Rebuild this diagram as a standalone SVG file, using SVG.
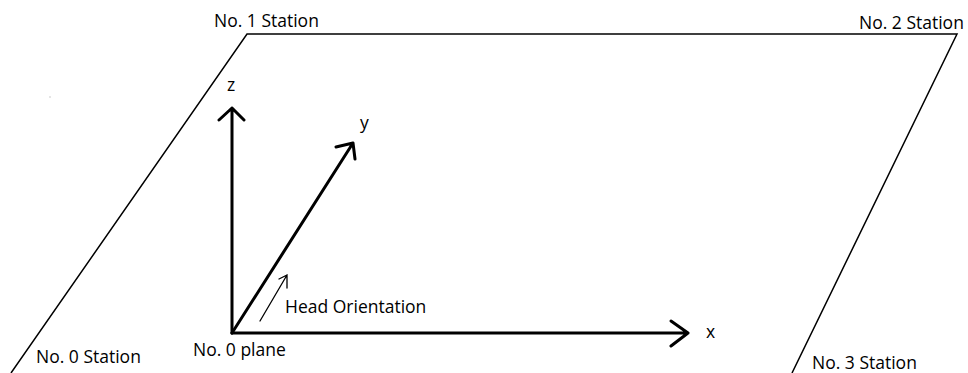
<svg xmlns="http://www.w3.org/2000/svg" width="968" height="373" viewBox="0 0 968 373">
<style>
.t{font-family:"Open Sans","Noto Sans","Liberation Sans",sans-serif;font-size:17.5px;fill:#000}
.edge{fill:none;stroke:#000;stroke-width:1.5}
.axis{fill:none;stroke:#000;stroke-width:3;stroke-linecap:round;stroke-linejoin:round}
.thin{fill:none;stroke:#000;stroke-width:1.3;stroke-linecap:round}
</style>
<rect width="968" height="373" fill="#fff"/>
<rect x="49.5" y="96.5" width="1" height="1" fill="#999"/>
<g id="plane">
<path class="edge" d="M11,373 L247,34 L957,34 L792,373"/>
</g>
<g id="station1"><text class="t" x="214" y="27">No. 1 Station</text></g>
<g id="station2"><text class="t" x="859" y="29">No. 2 Station</text></g>
<g id="station0"><text class="t" x="36" y="363">No. 0 Station</text></g>
<g id="station3"><text class="t" x="812" y="369">No. 3 Station</text></g>
<g id="plane0"><text class="t" x="193" y="356">No. 0 plane</text></g>
<g id="connectors">
<path class="axis" d="M232,333 L232,108 M219,120 L232,108 L244,120"/>
<path class="axis" d="M232,333 L353,143 M336,147 L353,143 L355,159"/>
<path class="axis" d="M232,333 L688,333 M671,321 L688,333 L671,346"/>
<path class="thin" d="M260,321 L287,275 M279,279 L287,275 L287,288"/>
</g>
<g id="labels">
<text class="t" x="227" y="91">z</text>
<text class="t" x="360" y="129">y</text>
<text class="t" x="706" y="338">x</text>
<text class="t" x="285" y="313">Head Orientation</text>
</g>
</svg>
